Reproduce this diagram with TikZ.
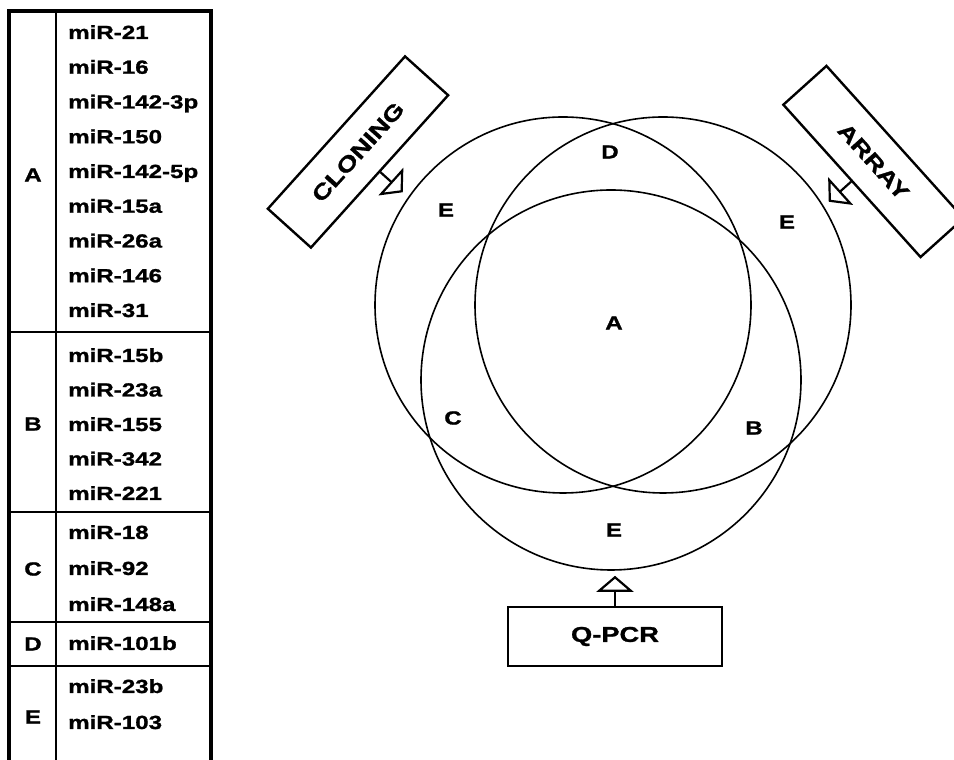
\documentclass[tikz,border=0pt]{standalone}
\usepackage{fontspec}
\setmainfont{Liberation Sans}[FakeStretch=1.27, BoldFeatures={FakeBold=1.2}]
\usetikzlibrary{arrows.meta,positioning,calc}

\begin{document}
\begin{tikzpicture}[x=1pt, y=1pt,
      set/.style={circle, draw, line width=1.6pt, inner sep=0pt, minimum size=376pt},
      src/.style={draw, line width=2.4pt, minimum width=205pt, minimum height=58pt,
                  inner sep=0pt, font=\fontsize{21.5}{24}\selectfont\bfseries},
      tag/.style={inner sep=0pt, font=\fontsize{19}{22}\selectfont\bfseries},
      mir/.style={tag, anchor=base west},
      rule/.style={line width=1.9pt},
      arr/.style={-{Triangle[open, length=16pt, width=37pt]}, line width=2.2pt}]
    \useasboundingbox (0,0) rectangle (954,760);
    % table of groups
    \draw[line width=3.3pt] (9,-5) |- (211,749) -- (211,-5);
    \draw[rule] (56,749) -- (56,-5);
    \draw[rule] (9,428.3) -- (211,428.3); \draw[rule] (9,247.7) -- (211,247.7);
    \draw[rule] (9,138.3) -- (211,138.3); \draw[rule] (9,94) -- (211,94);
    \node[tag] (grpA) at (33,585) {A}; \node[tag] (grpB) at (33,336) {B};
    \node[tag] (grpC) at (33,191) {C}; \node[tag] (grpD) at (33,116) {D};
    \node[tag] (grpE) at (33,43) {E};
    \node[mir] (m21) at (68,721) {miR-21}; \node[mir] (m16) at (68,686.25) {miR-16};
    \node[mir] (m1423) at (68,651.5) {miR-142-3p}; \node[mir] (m150) at (68,616.75) {miR-150};
    \node[mir] (m1425) at (68,582) {miR-142-5p}; \node[mir] (m15a) at (68,547.25) {miR-15a};
    \node[mir] (m26a) at (68,512.5) {miR-26a}; \node[mir] (m146) at (68,477.75) {miR-146};
    \node[mir] (m31) at (68,443) {miR-31};
    \node[mir] (m15b) at (68,398) {miR-15b}; \node[mir] (m23a) at (68,363.5) {miR-23a};
    \node[mir] (m155) at (68,329) {miR-155}; \node[mir] (m342) at (68,294.5) {miR-342};
    \node[mir] (m221) at (68,260) {miR-221};
    \node[mir] (m18) at (68,221) {miR-18}; \node[mir] (m92) at (68,185) {miR-92};
    \node[mir] (m148a) at (68,149) {miR-148a};
    \node[mir] (m101b) at (68,110) {miR-101b};
    \node[mir] (m23b) at (68,67) {miR-23b}; \node[mir] (m103) at (68,31) {miR-103};
    % venn
    \node[set] (cloneSet) at (563,455) {};
    \node[set] (arraySet) at (663,455) {};
    \node[set, minimum size=380pt] (pcrSet) at (611,380) {};
    \node[tag] (zoneD) at (610,608) {D};
    \node[tag] (zoneEl) at (446,550) {E};
    \node[tag] (zoneEr) at (787,538) {E};
    \node[tag] (zoneA) at (614,437) {A};
    \node[tag] (zoneC) at (453,342) {C};
    \node[tag] (zoneB) at (754,332) {B};
    \node[tag] (zoneEb) at (614,230) {E};
    % methods
    \node[src, rotate=48] (clone) at (358,608) {CLONING};
    \node[src, rotate=-48] (array) at (873.5,598.5) {ARRAY};
    \node[src, minimum width=214pt, minimum height=59pt] (qpcr) at (615,123.5) {Q-PCR};
    \path (clone.south) ++(-42:30) coordinate (cloneTip);
    \path (array.south) ++(-138:30) coordinate (arrayTip);
    \path (qpcr.north) ++(0,30) coordinate (qpcrTip);
    \draw[arr] (clone.south) -- (cloneTip); \draw[arr] (array.south) -- (arrayTip);
    \draw[arr] (qpcr.north) -- (qpcrTip);
  \end{tikzpicture}
\end{document}
